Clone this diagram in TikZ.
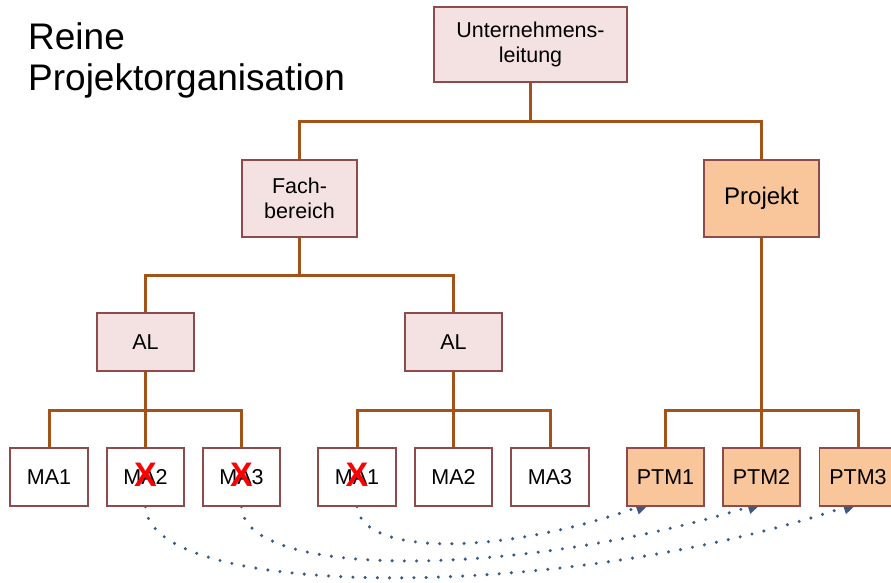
\documentclass[tikz,border=0pt]{standalone}
\usepackage{fontspec}
\setmainfont{Liberation Sans}
\usetikzlibrary{arrows.meta}
\usetikzlibrary{backgrounds}
\definecolor{boxpink}{HTML}{F4E1E1}
\definecolor{boxrand}{HTML}{8E4B4B}
\definecolor{boxorange}{HTML}{F9C59B}
\definecolor{linienbraun}{HTML}{A3521A}
\definecolor{punktblau}{HTML}{3A5A86}

\begin{document}
\begin{tikzpicture}[x=1pt,y=-1pt,
  einheit/.style={draw=boxrand,line width=1.4pt,fill=boxpink,inner sep=0pt,align=center,
    font=\fontsize{21.5}{25}\selectfont},
  projekt/.style={einheit,fill=boxorange},
  linie/.style={linienbraun,line width=3pt},
  wechsel/.style={punktblau,line width=3.4pt,line cap=round,dash pattern=on 0pt off 12.2pt,
    -{Triangle[length=15pt,width=13pt]}},
  kreuz/.style={red,inner sep=0pt,font=\fontsize{34}{34}\selectfont\bfseries}]
  \useasboundingbox (0,0) rectangle (891,583);
  \node[anchor=north west,inner sep=0pt,align=left,font=\fontsize{37}{41}\selectfont] (titel) at (28,22) {Reine\\Projektorganisation};

  % Leitung, Linie und Projekt
  \node[einheit,minimum width=193pt,minimum height=75pt] (ul) at (530.5,44.5) {Unternehmens-\\leitung};
  \node[einheit,minimum width=115pt,minimum height=77pt] (fb) at (299.5,198.5) {Fach-\\bereich};
  \node[projekt,minimum width=115pt,minimum height=77pt,font=\fontsize{24}{28}\selectfont] (pj) at (761.5,198.5) {Projekt};
  \node[einheit,minimum width=97pt,minimum height=58pt] (al1) at (145.5,342) {AL};
  \node[einheit,minimum width=97pt,minimum height=58pt] (al2) at (453.5,342) {AL};

  % Mitarbeiter
  \node[einheit,fill=white,minimum width=78pt,minimum height=58pt] (ma11) at (49,477) {MA1};
  \node[einheit,fill=white,minimum width=77pt,minimum height=58pt] (ma12) at (145.5,477) {MA2};
  \node[einheit,fill=white,minimum width=77pt,minimum height=58pt] (ma13) at (241.5,477) {MA3};
  \node[einheit,fill=white,minimum width=78pt,minimum height=58pt] (ma21) at (357,477) {MA1};
  \node[einheit,fill=white,minimum width=77pt,minimum height=58pt] (ma22) at (453.5,477) {MA2};
  \node[einheit,fill=white,minimum width=78pt,minimum height=58pt] (ma23) at (550,477) {MA3};
  \node[projekt,minimum width=77pt,minimum height=58pt] (ptm1) at (665.5,477) {PTM1};
  \node[projekt,minimum width=77pt,minimum height=58pt] (ptm2) at (761.5,477) {PTM2};
  \node[projekt,minimum width=77pt,minimum height=58pt] (ptm3) at (858,477) {PTM3};

  \node[kreuz] (x12) at ([yshift=2pt]ma12) {X};
  \node[kreuz] (x13) at ([yshift=2pt]ma13) {X};
  \node[kreuz] (x21) at ([yshift=2pt]ma21) {X};

  \coordinate (ziel1) at ([xshift=-15pt,yshift=4pt]ptm1.south);
  \coordinate (ziel2) at ([xshift=1pt,yshift=4pt]ptm2.south);
  \coordinate (ziel3) at ([xshift=0pt,yshift=4pt]ptm3.south);

  \begin{scope}[on background layer]
    \draw[linie] (ul.south) -- ++(0,38.5) -| (fb.north);
    \draw[linie] (ul.south) -- ++(0,38.5) -| (pj.north);
    \draw[linie] (fb.south) -- ++(0,38) -| (al1.north);
    \draw[linie] (fb.south) -- ++(0,38) -| (al2.north);
    \draw[linie] (al1.south) -- ++(0,39) -| (ma11.north);
    \draw[linie] (al1.south) -- ++(0,39) -| (ma12.north);
    \draw[linie] (al1.south) -- ++(0,39) -| (ma13.north);
    \draw[linie] (al2.south) -- ++(0,39) -| (ma21.north);
    \draw[linie] (al2.south) -- ++(0,39) -| (ma22.north);
    \draw[linie] (al2.south) -- ++(0,39) -| (ma23.north);
    \draw[linie] (pj.south) -- ++(0,173) -| (ptm1.north);
    \draw[linie] (pj.south) -- ++(0,173) -| (ptm2.north);
    \draw[linie] (pj.south) -- ++(0,173) -| (ptm3.north);
    % Wechsel ins Projekt
    \draw[wechsel] (ma21.south) .. controls (362,556) and (500,556) .. (ziel1);
    \draw[wechsel] (ma13.south) .. controls (245,580) and (520,578) .. (ziel2);
    \draw[wechsel] (ma12.south) .. controls (150,600) and (560,603) .. (ziel3);
  \end{scope}
\end{tikzpicture}
\end{document}
